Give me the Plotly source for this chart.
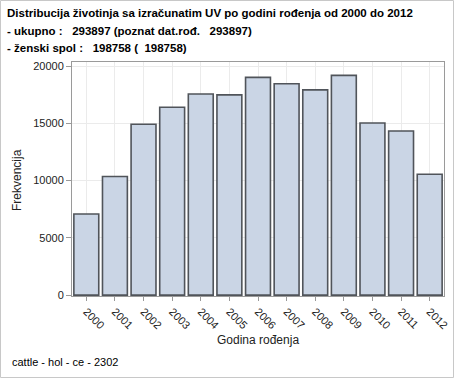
import plotly.graph_objects as go

years = ["2000", "2001", "2002", "2003", "2004", "2005", "2006",
         "2007", "2008", "2009", "2010", "2011", "2012"]
counts = [7080, 10350, 14910, 16400, 17550, 17480, 19010,
          18450, 17920, 19180, 15030, 14330, 10550]
y_ticks = [0, 5000, 10000, 15000, 20000]
y_labels = ["0", "5000", "10000", "15000", "20000"]

title_lines = [
    "Distribucija životinja sa izračunatim UV po godini rođenja od 2000 do 2012",
    "- ukupno :   293897 (poznat dat.rođ.   293897)",
    "- ženski spol :   198758 (  198758)",
]
x_title = "Godina rođenja"
y_title = "Frekvencija"
footer = "cattle - hol - ce - 2302"

W, H = 454, 378
L, R, T, B = 72, 10, 62, 82
pw, ph = W - L - R, H - T - B


def px(x):
    return (x - L) / pw


def py(y):
    return (T + ph - y) / ph


fig = go.Figure(go.Bar(
    x=years, y=counts,
    marker=dict(color="#cad5e5", line=dict(color="#50545a", width=1.6)),
    width=0.87,
))

font = "Liberation Sans, Arial, sans-serif"
fig.update_layout(
    width=W, height=H,
    margin=dict(l=L, r=R, t=T, b=B, autoexpand=False),
    paper_bgcolor="white", plot_bgcolor="white",
    font=dict(family=font, size=11, color="#222"),
    showlegend=False,
    xaxis=dict(
        range=[-0.5, 12.5], tickangle=45, showgrid=True, gridcolor="#ebebeb",
        ticks="outside", ticklen=4, tickcolor="#999", showline=True,
        linecolor="#9a9a9a", mirror=True, linewidth=1, automargin=False,
        tickfont=dict(size=11),
    ),
    yaxis=dict(
        range=[-80, 20350], tickvals=y_ticks, ticktext=y_labels,
        showgrid=True, gridcolor="#ebebeb",
        zeroline=False, ticks="outside", ticklen=5, tickcolor="#999",
        showline=True, linecolor="#9a9a9a", mirror=True, linewidth=1,
        automargin=False, tickfont=dict(size=11),
    ),
)

for i, line in enumerate(title_lines):
    fig.add_annotation(
        text="<b>" + line + "</b>", xref="paper", yref="paper",
        x=px(5), y=py(13 + 17.5 * i),
        xanchor="left", yanchor="middle", showarrow=False,
        font=dict(size=11.5, color="#000"),
    )

fig.add_annotation(
    text=x_title, xref="paper", yref="paper",
    x=px(258), y=py(340), xanchor="center", yanchor="middle", showarrow=False,
    font=dict(size=12, color="#222"),
)
fig.add_annotation(
    text=y_title, xref="paper", yref="paper", textangle=-90,
    x=px(17), y=py(180), xanchor="center", yanchor="middle", showarrow=False,
    font=dict(size=12, color="#222"),
)
fig.add_annotation(
    text=footer, xref="paper", yref="paper",
    x=px(10), y=py(362),
    xanchor="left", yanchor="middle", showarrow=False,
    font=dict(size=11, color="#000"),
)

fig.add_shape(
    type="rect", xref="paper", yref="paper",
    x0=px(0.5), x1=px(W - 0.5), y0=py(H - 0.5), y1=py(0.5),
    line=dict(color="#c8c8c8", width=1), layer="below",
)

fig.write_html(
    "out.html",
    config={"displayModeBar": False},
    post_script="document.body.style.margin='0';document.body.style.overflow='hidden';",
)
